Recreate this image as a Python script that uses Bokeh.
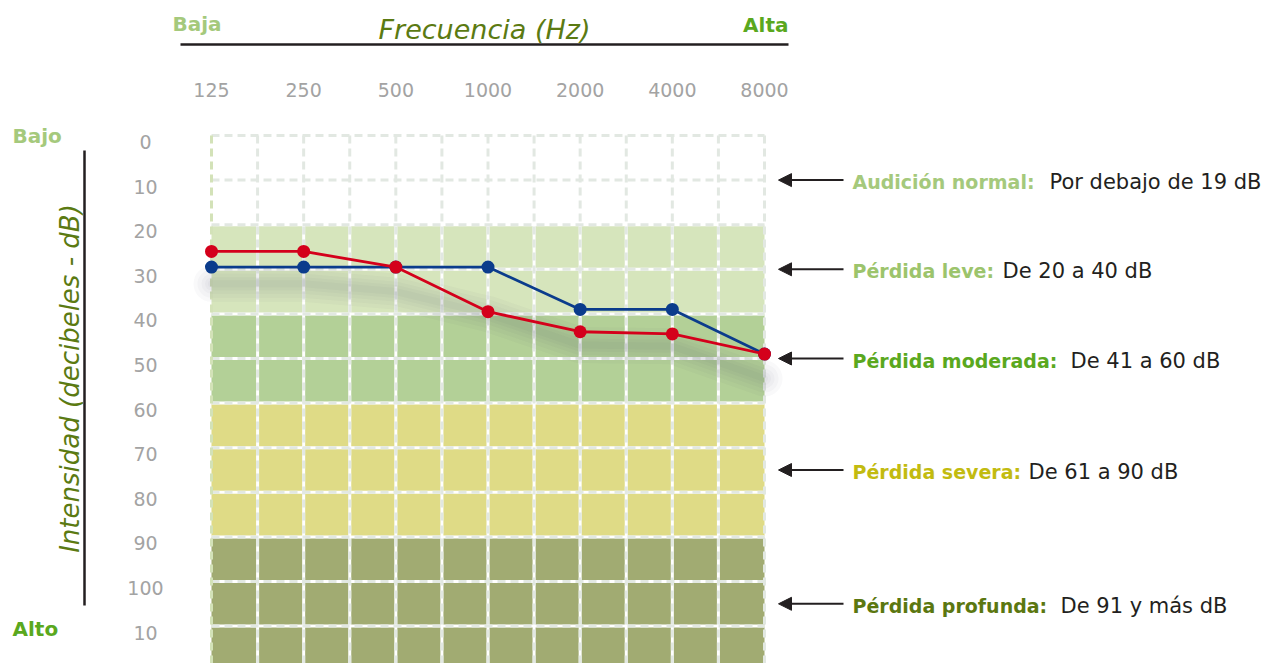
import numpy as np
from bokeh.plotting import figure
from bokeh.models import Range1d, Arrow, NormalHead
from bokeh.core.properties import value
from bokeh.embed import file_html
from bokeh.resources import INLINE

# ---------------- data ----------------
freq_labels = ["125", "250", "500", "1000", "2000", "4000", "8000"]
db_ticks = [0, 10, 20, 30, 40, 50, 60, 70, 80, 90, 100, 110]
db_labels = ["0", "10", "20", "30", "40", "50", "60", "70", "80", "90", "100", "10"]
blue_db = [29.5, 29.5, 29.5, 29.5, 39, 39, 49]
red_db = [26, 26, 29.5, 39.5, 44, 44.5, 49]
band_start = [0, 20, 40, 60, 90]
band_end = [20, 40, 60, 90, 120]
band_colors = ["#ffffff", "#d6e5bc", "#b3d097", "#dfdb86", "#a1ab72"]
band_titles = ["Audición normal:", "Pérdida leve:", "Pérdida moderada:", "Pérdida severa:", "Pérdida profunda:"]
band_desc = ["Por debajo de 19 dB", "De 20 a 40 dB", "De 41 a 60 dB", "De 61 a 90 dB", "De 91 y más dB"]
title_colors = ["#a5c97c", "#9cc46c", "#5aa81e", "#c2bb10", "#5b7710"]

FONT = "DejaVu Sans"
W, H = 1268, 663
OFF = 0
# page-pixel layout
PX0, PX6 = 211.0, 764.0
PY0, SY = 135.0, 4.46
sx = (PX6 - PX0) / 6.0
xa = -(PX0 - OFF) / sx
xb = xa + W / sx
ytop = -(PY0 - OFF) / SY
ybot = ytop + H / SY


def X(px):
    return xa + (px - OFF) / sx


def Y(py):
    return ytop + (py - OFF) / SY


p = figure(width=W, height=H, x_range=Range1d(xa, xb), y_range=Range1d(ybot, ytop),
           output_backend="svg", toolbar_location=None, min_border=0,
           x_axis_location=None, y_axis_location=None)
p.grid.visible = False
p.outline_line_color = None
p.background_fill_color = "white"
p.border_fill_color = "white"

n = len(freq_labels)
xs = list(range(n))

# bands
p.quad(left=0, right=n - 1, top=band_start, bottom=band_end, fill_color=band_colors, line_color=None)

# grid
gx = [i * 0.5 for i in range(1, 2 * (n - 1))]
p.segment(x0=gx, x1=gx, y0=0, y1=ybot, line_color="white", line_width=3)
p.segment(x0=0, x1=n - 1, y0=db_ticks, y1=db_ticks, line_color="white", line_width=3)
p.segment(x0=gx + [n - 1], x1=gx + [n - 1], y0=0, y1=ybot, line_color="#e2e8e2", line_width=3, line_dash="8 5")
p.segment(x0=0, x1=n - 1, y0=db_ticks, y1=db_ticks, line_color="#e2e8e2", line_width=3, line_dash="8 5")
p.segment(x0=[0], x1=[0], y0=[0], y1=[ybot], line_color="#d3e2b8", line_width=3, line_dash="8 5")

# shadow under the curves
shadow_y = [(b + r) / 2 + 5.5 for b, r in zip(blue_db, red_db)]
for w in [36, 28, 20, 13, 7]:
    p.line(xs, shadow_y, line_color="#404650", line_alpha=0.03, line_width=w, line_join="round", line_cap="round")

# curves
p.line(xs, blue_db, line_color="#0b3c8c", line_width=2.8)
p.scatter(xs, blue_db, size=13, fill_color="#0b3c8c", line_color=None)
p.line(xs, red_db, line_color="#d4001b", line_width=2.8)
p.scatter(xs, red_db, size=13, fill_color="#d4001b", line_color=None)

# tick labels
p.text(x=xs, y=[Y(89)] * n, text=freq_labels, text_align="center", text_baseline="middle",
       text_font=value(FONT), text_font_size="19px", text_color="#a3a3a3")
p.text(x=[X(145)] * len(db_ticks), y=[d + 6.5 / SY for d in db_ticks], text=db_labels,
       text_align="center", text_baseline="middle",
       text_font=value(FONT), text_font_size="19px", text_color="#a3a3a3")

# axis titles and decorations
p.segment(x0=[X(180)], x1=[X(788)], y0=[Y(44)], y1=[Y(44)], line_color="#231f20", line_width=2.5)
p.segment(x0=[X(84)], x1=[X(84)], y0=[Y(150)], y1=[Y(605)], line_color="#231f20", line_width=2.5)
p.text(x=[X(484)], y=[Y(29)], text=["Frecuencia (Hz)"], text_align="center", text_baseline="middle",
       text_font=value(FONT), text_font_style="italic", text_font_size="27px", text_color="#5b7a12")
p.text(x=[X(69)], y=[Y(378)], text=["Intensidad (decibeles - dB)"], angle=np.pi / 2,
       text_align="center", text_baseline="middle",
       text_font=value(FONT), text_font_style="italic", text_font_size="26px", text_color="#5b7a12")
p.text(x=[X(172)], y=[Y(23)], text=["Baja"], text_align="left", text_baseline="middle",
       text_font=value(FONT), text_font_style="bold", text_font_size="20px", text_color="#a5c97c")
p.text(x=[X(788)], y=[Y(24)], text=["Alta"], text_align="right", text_baseline="middle",
       text_font=value(FONT), text_font_style="bold", text_font_size="20px", text_color="#5aa81e")
p.text(x=[X(12)], y=[Y(135)], text=["Bajo"], text_align="left", text_baseline="middle",
       text_font=value(FONT), text_font_style="bold", text_font_size="20px", text_color="#a5c97c")
p.text(x=[X(12)], y=[Y(628)], text=["Alto"], text_align="left", text_baseline="middle",
       text_font=value(FONT), text_font_style="bold", text_font_size="20px", text_color="#5aa81e")

# band annotations with arrows
mids = [(a + b) / 2 for a, b in zip(band_start, band_end)]
desc_px = [1049, 1002, 1070, 1028, 1060]
for m, t, d, c, dp in zip(mids, band_titles, band_desc, title_colors, desc_px):
    p.add_layout(Arrow(end=NormalHead(size=13, fill_color="#231f20", line_color="#231f20"),
                       x_start=X(843), x_end=X(778), y_start=m, y_end=m,
                       line_color="#231f20", line_width=2))
    p.text(x=[X(852)], y=[m + 2 / SY], text=[t], text_align="left", text_baseline="middle",
           text_font=value(FONT), text_font_style="bold", text_font_size="19px", text_color=c)
    p.text(x=[X(dp)], y=[m + 2 / SY], text=[d], text_align="left", text_baseline="middle",
           text_font=value(FONT), text_font_size="21px", text_color="#231f20")

open("out.html", "w").write(file_html(p, INLINE))
